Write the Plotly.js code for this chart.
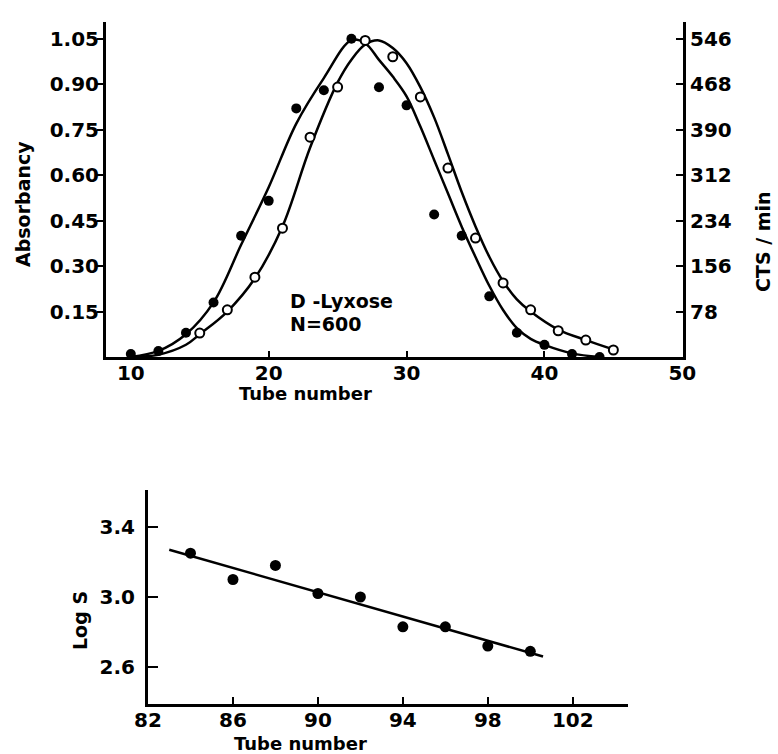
<!DOCTYPE html>
<html>
<head>
<meta charset="utf-8">
<script src="https://cdn.plot.ly/plotly-3.0.1.min.js"></script>
<style>html,body{margin:0;padding:0;background:#fff;}#chart{width:778px;height:754px;}</style>
</head>
<body>
<div id="chart"></div>
<script>
// ---- Top chart: D-Lyxose, absorbancy (filled) and CTS/min (open) ----
const tubeFilled = [10,12,14,16,18,20,22,24,26,28,30,32,34,36,38,40,42,44];
const absFilled  = [0.01,0.02,0.08,0.18,0.40,0.515,0.82,0.88,1.05,0.89,0.83,0.47,0.40,0.20,0.08,0.04,0.01,0.00];
const tubeOpen   = [15,17,19,21,23,25,27,29,31,33,35,37,39,41,43,45];
const ctsOpen    = [41,81,137,221,377,463,543,515,446,324,204,127,81,45,29,12];

// smooth curves as drawn in the figure
const curveTubeAbs = [10,12,14,16,18,20,22,24,26,27,28,29,30,31,32,33,34,35,36,37,38,39,40,42,44];
const curveAbs     = [0.0,0.02,0.075,0.18,0.37,0.56,0.77,0.92,1.045,1.035,0.98,0.925,0.86,0.76,0.65,0.54,0.43,0.33,0.235,0.155,0.095,0.06,0.04,0.012,0.0];
const curveTubeCts = [10,12,14,15,17,19,21,23,25,26,27,28,29,30,31,32,33,34,35,36,37,38,39,41,43,45];
const curveCts     = [0,4,21,39,78,135,224,359,471,510,536,543,530,504,463,411,348,283,224,172,130,99,78,47,29,13];

const absTicks = [0.15,0.30,0.45,0.60,0.75,0.90,1.05];
const absTickText = ['0.15','0.30','0.45','0.60','0.75','0.90','1.05'];
const ctsTicks = [78,156,234,312,390,468,546];
const tubeTicksTop = [10,20,30,40,50];

// ---- Bottom chart: Log S vs tube number ----
const tubeLog = [84,86,88,90,92,94,96,98,100];
const logS    = [3.25,3.10,3.18,3.02,3.00,2.83,2.83,2.72,2.69];
const fitTube = [83.0,100.6];
const fitLogS = [3.27,2.66];
const logTicks = [2.6,3.0,3.4];
const logTickText = ['2.6','3.0','3.4'];
const tubeTicksBottom = [82,86,90,94,98,102];

const W = 778, H = 754;
const px = v => v / W;
const py = v => 1 - v / H;
const FONT = 'DejaVu Sans';
const tickFont = {family: FONT, size: 20, color: '#000', weight: 'bold'};

const traces = [
  {x: curveTubeAbs, y: curveAbs, xaxis: 'x', yaxis: 'y', mode: 'lines',
   line: {color: '#000', width: 2.5, shape: 'spline', smoothing: 1}, hoverinfo: 'skip'},
  {x: curveTubeCts, y: curveCts, xaxis: 'x', yaxis: 'y2', mode: 'lines',
   line: {color: '#000', width: 2.5, shape: 'spline', smoothing: 1}, hoverinfo: 'skip'},
  {x: tubeFilled, y: absFilled, xaxis: 'x', yaxis: 'y', mode: 'markers',
   marker: {color: '#000', size: 10, symbol: 'circle'}},
  {x: tubeOpen, y: ctsOpen, xaxis: 'x', yaxis: 'y2', mode: 'markers',
   marker: {color: '#fff', size: 9, symbol: 'circle', line: {color: '#000', width: 2}}},
  {x: fitTube, y: fitLogS, xaxis: 'x2', yaxis: 'y3', mode: 'lines',
   line: {color: '#000', width: 2.5}, hoverinfo: 'skip'},
  {x: tubeLog, y: logS, xaxis: 'x2', yaxis: 'y3', mode: 'markers',
   marker: {color: '#000', size: 11, symbol: 'circle'}}
];

const ann = (text, x, y, size, extra) => Object.assign({
  text: text, x: x, y: y, xref: 'paper', yref: 'paper', showarrow: false,
  xanchor: 'center', yanchor: 'middle',
  font: {family: FONT, size: size, color: '#000', weight: 'bold'}
}, extra || {});

const axisCommon = {tickcolor: '#000', tickwidth: 2, showline: true, linecolor: '#000', linewidth: 3,
  showgrid: false, zeroline: false, tickfont: tickFont};

const layout = {
  width: W, height: H,
  margin: {l: 0, r: 0, t: 0, b: 0},
  paper_bgcolor: '#fff', plot_bgcolor: 'rgba(0,0,0,0)',
  showlegend: false,
  xaxis: Object.assign({domain: [px(106), px(683)], range: [8.2, 50.05], anchor: 'y',
    tickvals: tubeTicksTop, ticktext: tubeTicksTop.map(String), ticks: 'inside', ticklen: 6,
    ticklabelstandoff: -4}, axisCommon),
  yaxis: Object.assign({domain: [py(357), py(22)], range: [0, 1.105], anchor: 'x',
    tickvals: absTicks, ticktext: absTickText, ticks: 'outside', ticklen: 6,
    ticklabelstandoff: -6}, axisCommon),
  yaxis2: Object.assign({domain: [py(357), py(20)], range: [0, 1.105 * 520], overlaying: 'y', side: 'right', anchor: 'x',
    tickvals: ctsTicks, ticktext: ctsTicks.map(String), ticks: 'inside', ticklen: 7}, axisCommon),
  xaxis2: Object.assign({domain: [px(148), px(628)], range: [82, 104.6], anchor: 'y3',
    tickvals: tubeTicksBottom, ticktext: tubeTicksBottom.map(String), ticks: 'inside', ticklen: 7,
    ticklabelstandoff: -4}, axisCommon),
  yaxis3: Object.assign({domain: [py(704), py(490)], range: [2.389, 3.611], anchor: 'x2',
    tickvals: logTicks, ticktext: logTickText, ticks: 'inside', ticklen: 10,
    ticklabelstandoff: 6}, axisCommon),
  annotations: [
    ann('Absorbancy', px(23), py(204), 19, {textangle: -90}),
    ann('CTS / min', px(763), py(242), 19, {textangle: -90}),
    ann('Tube number', px(305), py(393), 18),
    ann('D -Lyxose', 21.4, 0.186, 19, {xref: 'x', yref: 'y', xanchor: 'left'}),
    ann('N=600', 21.4, 0.108, 19, {xref: 'x', yref: 'y', xanchor: 'left'}),
    ann('Log S', px(80), py(621), 19, {textangle: -90}),
    ann('Tube number', px(300), py(743), 18)
  ]
};

Plotly.newPlot('chart', traces, layout, {displayModeBar: false, staticPlot: true});
</script>
</body>
</html>
